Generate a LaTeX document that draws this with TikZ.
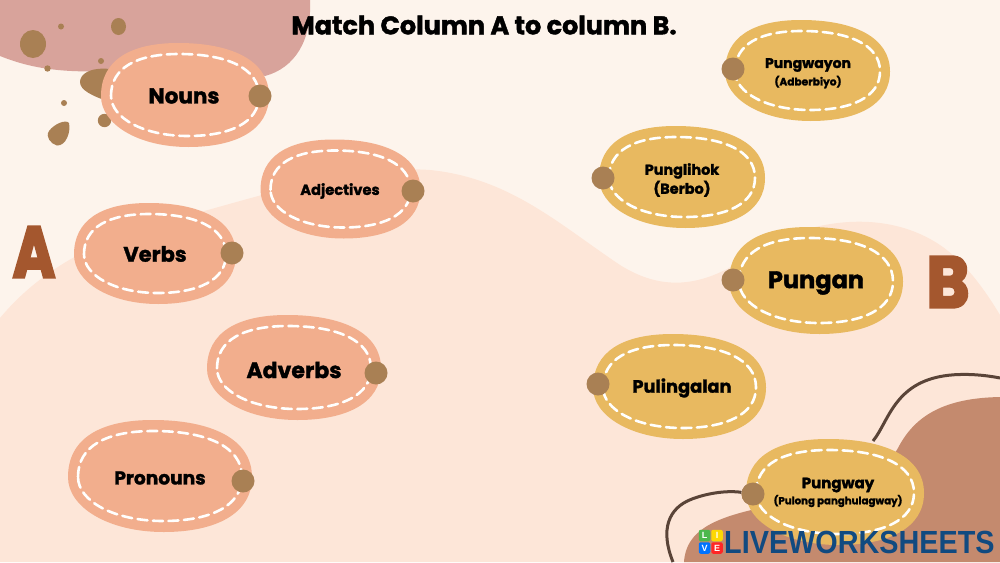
\documentclass[tikz,border=0pt]{standalone}
\usepackage{fontspec}
\setmainfont{Poppins}[BoldFont={Poppins Bold},BoldFeatures={FakeBold=1.6}]
\newfontfamily\logofont{Liberation Sans}
\newfontfamily\heavyfont{Poppins Bold}[FakeBold=4]
\definecolor{bgtop}{HTML}{FDF4EC}
\definecolor{bghill}{HTML}{FDE6D8}
\definecolor{pinkblob}{HTML}{D8A39B}
\definecolor{brownhill}{HTML}{C48A6E}
\definecolor{salmon}{HTML}{F2AE8D}
\definecolor{mustard}{HTML}{E8B960}
\definecolor{dotbrown}{HTML}{A98054}
\definecolor{linebrown}{HTML}{5A4438}
\definecolor{letterbrown}{HTML}{A4572E}
\definecolor{logoblue}{HTML}{114A80}
\tikzset{
  blobtext/.style={font=\bfseries,text=black,align=center,inner sep=0pt},
  knob/.style={circle,fill=dotbrown,inner sep=0pt,minimum size=23pt},
  stitch/.style={draw=white!96!bgtop,line width=2.6pt,dash pattern=on 10pt off 5.5pt,line cap=round},
  squiggle/.style={draw=linebrown,line width=3pt},
  logotile/.style={rounded corners=2pt,minimum size=11.5pt,inner sep=0pt,text=white,font=\logofont\bfseries\fontsize{9}{9}\selectfont},
}
\newcommand{\blobpath}{(-1,.02) .. controls (-1,-.66) and (-.66,-1) .. (-.08,-1)
  .. controls (.56,-1) and (1,-.66) .. (1,.02)
  .. controls (1,.68) and (.6,1) .. (.04,1)
  .. controls (-.56,1) and (-1,.56) .. (-1,.02) -- cycle}
% cx cy rx ry colour
\newcommand{\blob}[5]{%
  \begin{scope}[shift={(#1,#2)},xscale=#3,yscale=#4]
    \fill[#5] \blobpath;
  \end{scope}
  \begin{scope}[shift={(#1,#2)},xscale=#3-10,yscale=#4-11]
    \path[stitch] \blobpath;
  \end{scope}}
\begin{document}
\begin{tikzpicture}[x=1pt,y=-1pt]
\useasboundingbox (0,0) rectangle (1000,562);
\fill[bgtop] (0,0) rectangle (1000,562);
% lower hill
\fill[bghill] (0,318) .. controls (40,270) and (100,235) .. (190,215)
  .. controls (280,190) and (360,165) .. (430,170)
  .. controls (510,178) and (560,225) .. (620,265)
  .. controls (660,290) and (700,290) .. (750,255)
  .. controls (800,222) and (880,205) .. (940,245)
  .. controls (965,262) and (985,290) .. (1000,315)
  -- (1000,562) -- (0,562) -- cycle;
% pink blob
\fill[pinkblob] (0,0) -- (0,56) .. controls (30,68) and (60,73) .. (110,71)
  .. controls (170,68) and (230,62) .. (265,76)
  .. controls (295,68) and (312,40) .. (310,0) -- cycle;
% brown hill
\fill[brownhill] (684,562) .. controls (686,530) and (715,518) .. (760,508)
  .. controls (830,490) and (880,480) .. (898,448)
  .. controls (915,415) and (945,398) .. (1000,397)
  -- (1000,562) -- cycle;
% specks
\fill[dotbrown] (33,44) ellipse (13 and 14);
\fill[dotbrown] (118.5,26.5) ellipse (7.5 and 8.5);
\fill[dotbrown] (61,26.5) circle (3);
\fill[dotbrown] (47.5,68.5) circle (3.2);
\fill[dotbrown] (101,61) circle (3);
\fill[dotbrown] (64,103) circle (3);
\fill[dotbrown] (104.5,120.5) circle (6.7);
\fill[dotbrown] (49,131) .. controls (54,124) and (66,119) .. (69,123)
  .. controls (71,132) and (66,146) .. (57,145.5)
  .. controls (51,144) and (45,137) .. (49,131) -- cycle;
\fill[dotbrown] (110,69) .. controls (90,67) and (80,74) .. (80,82)
  .. controls (80,90) and (92,96) .. (110,102) -- cycle;
% decorative curves
\node[knob] (kway) at (753,494) {};
\coordinate (c1a) at (873,441);
\coordinate (c1b) at (1000,378);
\coordinate (c2b) at (673,562);
\draw[squiggle] (c1a) .. controls (890,420) and (895,376) .. (960,374.5) .. controls (975,374) and (990,376) .. (c1b);
\draw[squiggle] (kway) .. controls (725,490) and (705,494) .. (692,499)
  .. controls (668,508) and (660,530) .. (c2b);
% left blobs
\blob{185}{95}{84}{52}{salmon}
\blob{340.5}{189}{80}{49.5}{salmon}
\blob{155}{253.5}{81}{50.5}{salmon}
\blob{294}{367.5}{87}{52.5}{salmon}
\blob{160}{476}{92}{56}{salmon}
% right blobs
\blob{807.5}{70.5}{82.5}{50.5}{mustard}
\blob{682}{177}{83}{51}{mustard}
\blob{816}{280.5}{87}{53.5}{mustard}
\blob{679.5}{386.5}{86.5}{52.5}{mustard}
\blob{835}{492}{89}{53}{mustard}
\node[knob] (knouns) at (260,96) {};
\node[knob] (kadj) at (413,191) {};
\node[knob] (kverbs) at (232,253) {};
\node[knob] (kadv) at (376,373) {};
\node[knob] (kpro) at (243,481) {};
\node[knob] (kwayon) at (733,69) {};
\node[knob] (klihok) at (603,178) {};
\node[knob] (kan) at (733,280) {};
\node[knob] (kling) at (598,384) {};
\node[knob] at (kway) {};
% texts
\node[blobtext,font=\bfseries\fontsize{25.5}{30}\selectfont] (title) at (484,25) {Match Column A to column B.};
\node[blobtext,font=\bfseries\fontsize{21.5}{26}\selectfont] (nouns) at (184,96) {Nouns};
\node[blobtext,font=\bfseries\fontsize{14.6}{18}\selectfont] (adj) at (340,191) {Adjectives};
\node[blobtext,font=\bfseries\fontsize{21}{25}\selectfont] (verbs) at (155,254) {Verbs};
\node[blobtext,font=\bfseries\fontsize{22}{26}\selectfont] (adv) at (294,370) {Adverbs};
\node[blobtext,font=\bfseries\fontsize{18.6}{22}\selectfont] (pro) at (160,478) {Pronouns};
\node[blobtext,font=\bfseries\fontsize{14}{17}\selectfont] (wayon) at (808,65) {Pungwayon};
\node[blobtext,font=\bfseries\fontsize{10.6}{13}\selectfont] (wayonb) at (808,82) {(Adberbiyo)};
\node[blobtext,font=\bfseries\fontsize{14.4}{19}\selectfont] (lihok) at (682,180) {Punglihok\\(Berbo)};
\node[blobtext,font=\bfseries\fontsize{24}{28}\selectfont] (an) at (816,283) {Pungan};
\node[blobtext,font=\bfseries\fontsize{17.8}{21}\selectfont] (ling) at (682,388) {Pulingalan};
\node[blobtext,font=\bfseries\fontsize{15}{18}\selectfont] (way) at (838,485) {Pungway};
\node[blobtext,font=\bfseries\fontsize{10.2}{12}\selectfont] (wayb) at (838,501) {(Pulong panghulagway)};
% column letters
\node[text=letterbrown,inner sep=0pt,xscale=.8,font=\heavyfont\fontsize{72}{72}\selectfont] (A) at (34,252) {A};
\node[text=letterbrown,inner sep=0pt,xscale=.9,font=\heavyfont\fontsize{72}{72}\selectfont] (B) at (948,282) {B};
% logo
\node[logotile,fill=green!60!black!70!white] (l1) at (704.5,535.5) {L};
\node[logotile,fill=yellow!75!orange] (l2) at (717,535.5) {I};
\node[logotile,fill=blue!55!cyan] (l3) at (704.5,548) {V};
\node[logotile,fill=red!80!pink] (l4) at (717,548) {E};
\node[inner sep=0pt,text=logoblue,anchor=west,xscale=.9,font=\logofont\bfseries\fontsize{32}{33}\selectfont] (logo) at (724,542) {LIVEWORKSHEETS};
\end{tikzpicture}
\end{document}
